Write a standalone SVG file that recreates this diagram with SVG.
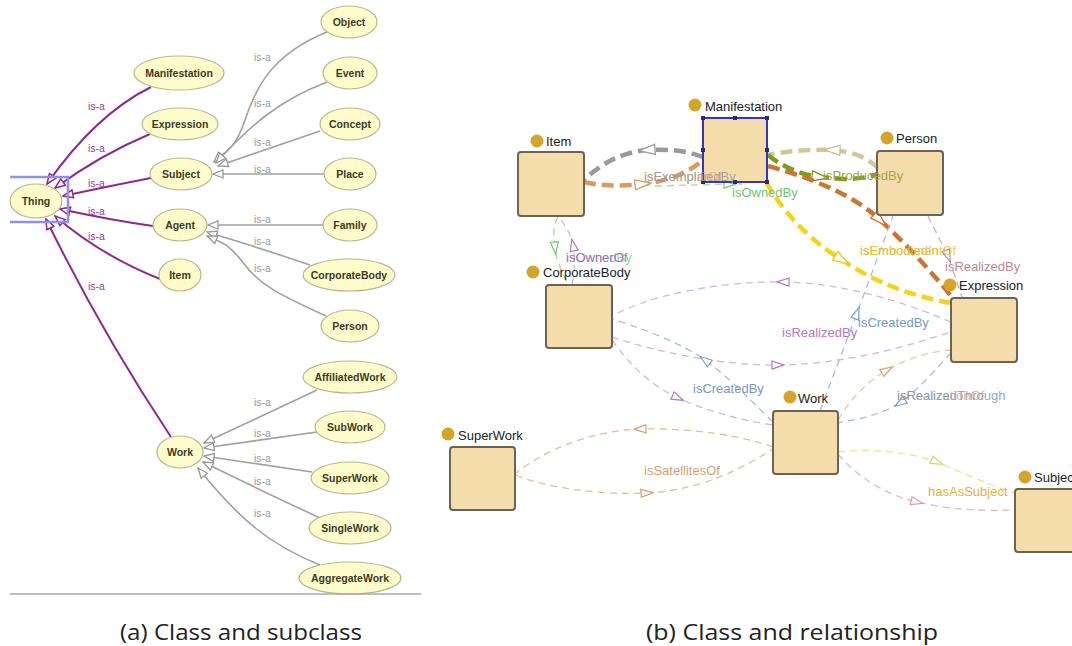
<svg xmlns="http://www.w3.org/2000/svg" width="1072" height="646" viewBox="0 0 1072 646">
<style>
.cls ellipse{fill:#fffccc;stroke:#b8b690;stroke-width:1.2}
.cls text{font-family:"Liberation Sans",Arial,sans-serif;font-size:10.5px;font-weight:bold;fill:#3b3b22;text-anchor:middle}
.isa{fill:none;stroke-width:1.6}
.isa.p{stroke:#8b2c8b;stroke-width:2}
.isa.g{stroke:#a0a0a0}
.lbl{font-family:"Liberation Sans",Arial,sans-serif;font-size:10.5px}
.lbl.p{fill:#9a3a9a}
.lbl.g{fill:#9a9a9a}
.box rect.sq{fill:#f5dcab;stroke:#6a6356;stroke-width:2}
.box circle{fill:#d4a52a}
.box text{font-family:"Liberation Sans",Arial,sans-serif;font-size:13px;fill:#222}
.rel{fill:none}
.thick{stroke-width:4.5;stroke-dasharray:12 6}
.thin{stroke-width:1.3;stroke-dasharray:7 5}
.el{font-family:"Liberation Sans",Arial,sans-serif;font-size:13px}
.cap{font-family:"Liberation Sans Narrow","Open Sans",sans-serif;font-size:22px;fill:#222}
.hd{fill:#2a2a70}
</style>
<defs>
<marker id="ip" viewBox="0 0 12 10" refX="11" refY="5" markerWidth="12" markerHeight="10" markerUnits="userSpaceOnUse" orient="auto"><path d="M1,1 L11,5 L1,9 Z" fill="#fff" stroke="#8b2c8b" stroke-width="1.5"/></marker>
<marker id="ig" viewBox="0 0 12 10" refX="11" refY="5" markerWidth="12" markerHeight="10" markerUnits="userSpaceOnUse" orient="auto"><path d="M1,1 L11,5 L1,9 Z" fill="#fff" stroke="#999" stroke-width="1.3"/></marker>
<marker id="m-gray" viewBox="0 0 18 12" refX="9" refY="6" markerWidth="18" markerHeight="12" markerUnits="userSpaceOnUse" orient="auto"><path d="M1,1 L17,6 L1,11 Z" fill="#fff" stroke="#9a9a9a" stroke-width="1.3"/></marker>
<marker id="m-orange" viewBox="0 0 18 12" refX="9" refY="6" markerWidth="18" markerHeight="12" markerUnits="userSpaceOnUse" orient="auto"><path d="M1,1 L17,6 L1,11 Z" fill="#fff" stroke="#dc9a60" stroke-width="1.3"/></marker>
<marker id="m-khaki" viewBox="0 0 18 12" refX="9" refY="6" markerWidth="18" markerHeight="12" markerUnits="userSpaceOnUse" orient="auto"><path d="M1,1 L17,6 L1,11 Z" fill="#fff" stroke="#c9c28e" stroke-width="1.3"/></marker>
<marker id="m-olive" viewBox="0 0 18 12" refX="9" refY="6" markerWidth="18" markerHeight="12" markerUnits="userSpaceOnUse" orient="auto"><path d="M1,1 L17,6 L1,11 Z" fill="#fff" stroke="#7f9b1e" stroke-width="1.3"/></marker>
<marker id="m-dorange" viewBox="0 0 18 12" refX="9" refY="6" markerWidth="18" markerHeight="12" markerUnits="userSpaceOnUse" orient="auto"><path d="M1,1 L17,6 L1,11 Z" fill="#fff" stroke="#cc7434" stroke-width="1.3"/></marker>
<marker id="m-yellow" viewBox="0 0 18 12" refX="9" refY="6" markerWidth="18" markerHeight="12" markerUnits="userSpaceOnUse" orient="auto"><path d="M1,1 L17,6 L1,11 Z" fill="#fff" stroke="#e8c81a" stroke-width="1.3"/></marker>
<marker id="m-green" viewBox="0 0 14 10" refX="7" refY="5" markerWidth="14" markerHeight="10" markerUnits="userSpaceOnUse" orient="auto"><path d="M1,1 L13,5 L1,9 Z" fill="#fff" stroke="#6fc86f" stroke-width="1.2"/></marker>
<marker id="m-purple" viewBox="0 0 14 10" refX="7" refY="5" markerWidth="14" markerHeight="10" markerUnits="userSpaceOnUse" orient="auto"><path d="M1,1 L13,5 L1,9 Z" fill="#fff" stroke="#b37ccc" stroke-width="1.2"/></marker>
<marker id="m-blue" viewBox="0 0 14 10" refX="7" refY="5" markerWidth="14" markerHeight="10" markerUnits="userSpaceOnUse" orient="auto"><path d="M1,1 L13,5 L1,9 Z" fill="#fff" stroke="#7f9ccc" stroke-width="1.2"/></marker>
<marker id="m-rose" viewBox="0 0 14 10" refX="7" refY="5" markerWidth="14" markerHeight="10" markerUnits="userSpaceOnUse" orient="auto"><path d="M1,1 L13,5 L1,9 Z" fill="#fff" stroke="#b89098" stroke-width="1.2"/></marker>
<marker id="m-peach" viewBox="0 0 14 10" refX="7" refY="5" markerWidth="14" markerHeight="10" markerUnits="userSpaceOnUse" orient="auto"><path d="M1,1 L13,5 L1,9 Z" fill="#fff" stroke="#d8a070" stroke-width="1.2"/></marker>
<marker id="m-lyellow" viewBox="0 0 14 10" refX="7" refY="5" markerWidth="14" markerHeight="10" markerUnits="userSpaceOnUse" orient="auto"><path d="M1,1 L13,5 L1,9 Z" fill="#fff" stroke="#e8d060" stroke-width="1.2"/></marker>
<marker id="m-pink" viewBox="0 0 14 10" refX="7" refY="5" markerWidth="14" markerHeight="10" markerUnits="userSpaceOnUse" orient="auto"><path d="M1,1 L13,5 L1,9 Z" fill="#fff" stroke="#d898b8" stroke-width="1.2"/></marker>
</defs>
<rect width="1072" height="646" fill="#fff"/>

<!-- ===== Left panel connectors ===== -->
<g id="connectors-left">
<path class="isa p" d="M151,87 Q95,115 47,184" marker-end="url(#ip)"/>
<path class="isa p" d="M150,134 Q100,155 55,188" marker-end="url(#ip)"/>
<path class="isa p" d="M151,178 Q110,186 63,196" marker-end="url(#ip)"/>
<path class="isa p" d="M153,226 Q110,220 60,209" marker-end="url(#ip)"/>
<path class="isa p" d="M160,279 Q100,255 55,216" marker-end="url(#ip)"/>
<path class="isa p" d="M171,437 Q100,330 46,219" marker-end="url(#ip)"/>
<path class="isa g" d="M327,32 C270,55 255,90 245,120 S226,150 214,162" marker-end="url(#ig)"/>
<path class="isa g" d="M327,82 C280,100 250,125 216,163" marker-end="url(#ig)"/>
<path class="isa g" d="M320,131 Q270,148 218,166" marker-end="url(#ig)"/>
<path class="isa g" d="M324,174 L213,174" marker-end="url(#ig)"/>
<path class="isa g" d="M323,225 L208,225" marker-end="url(#ig)"/>
<path class="isa g" d="M310,265 Q260,248 207,232" marker-end="url(#ig)"/>
<path class="isa g" d="M326,316 C280,295 260,285 245,265 S222,242 207,236" marker-end="url(#ig)"/>
<path class="isa g" d="M317,390 L204,443" marker-end="url(#ig)"/>
<path class="isa g" d="M317,432 L204,448" marker-end="url(#ig)"/>
<path class="isa g" d="M312,472 L204,456" marker-end="url(#ig)"/>
<path class="isa g" d="M320,518 Q260,490 203,462" marker-end="url(#ig)"/>
<path class="isa g" d="M320,565 C270,545 240,520 198,468" marker-end="url(#ig)"/>
<text class="lbl p" x="88" y="110">is-a</text>
<text class="lbl p" x="88" y="152">is-a</text>
<text class="lbl p" x="88" y="187">is-a</text>
<text class="lbl p" x="88" y="215">is-a</text>
<text class="lbl p" x="88" y="240">is-a</text>
<text class="lbl p" x="88" y="290">is-a</text>
<text class="lbl g" x="254" y="61">is-a</text>
<text class="lbl g" x="254" y="107">is-a</text>
<text class="lbl g" x="254" y="146">is-a</text>
<text class="lbl g" x="254" y="173">is-a</text>
<text class="lbl g" x="254" y="223">is-a</text>
<text class="lbl g" x="254" y="245">is-a</text>
<text class="lbl g" x="254" y="272">is-a</text>
<text class="lbl g" x="254" y="406">is-a</text>
<text class="lbl g" x="254" y="437">is-a</text>
<text class="lbl g" x="254" y="462">is-a</text>
<text class="lbl g" x="254" y="485">is-a</text>
<text class="lbl g" x="254" y="517">is-a</text>
</g>

<!-- ===== Left panel nodes ===== -->
<g id="c-Thing" class="cls"><ellipse cx="36" cy="201" rx="26" ry="17"/><text x="36" y="205">Thing</text>
<path d="M10,177 H68 V222 H10" fill="none" stroke="#8f8ff0" stroke-width="2.5"/></g>
<g id="c-Manifestation" class="cls"><ellipse cx="179" cy="73" rx="45" ry="17"/><text x="179" y="77">Manifestation</text></g>
<g id="c-Expression" class="cls"><ellipse cx="180" cy="124" rx="38" ry="16"/><text x="180" y="128">Expression</text></g>
<g id="c-Subject" class="cls"><ellipse cx="181" cy="174" rx="31" ry="16"/><text x="181" y="178">Subject</text></g>
<g id="c-Agent" class="cls"><ellipse cx="180" cy="225" rx="27" ry="16"/><text x="180" y="229">Agent</text></g>
<g id="c-Item" class="cls"><ellipse cx="180" cy="275" rx="21" ry="16"/><text x="180" y="279">Item</text></g>
<g id="c-Work" class="cls"><ellipse cx="180" cy="452" rx="23" ry="16"/><text x="180" y="456">Work</text></g>
<g id="c-Object" class="cls"><ellipse cx="349" cy="22" rx="28" ry="16"/><text x="349" y="26">Object</text></g>
<g id="c-Event" class="cls"><ellipse cx="350" cy="73" rx="27" ry="16"/><text x="350" y="77">Event</text></g>
<g id="c-Concept" class="cls"><ellipse cx="350" cy="124" rx="30" ry="16"/><text x="350" y="128">Concept</text></g>
<g id="c-Place" class="cls"><ellipse cx="350" cy="174" rx="26" ry="16"/><text x="350" y="178">Place</text></g>
<g id="c-Family" class="cls"><ellipse cx="350" cy="225" rx="27" ry="16"/><text x="350" y="229">Family</text></g>
<g id="c-CorporateBody" class="cls"><ellipse cx="349" cy="275" rx="46" ry="16"/><text x="349" y="279">CorporateBody</text></g>
<g id="c-Person" class="cls"><ellipse cx="350" cy="326" rx="29" ry="16"/><text x="350" y="330">Person</text></g>
<g id="c-AffiliatedWork" class="cls"><ellipse cx="350" cy="377" rx="47" ry="16"/><text x="350" y="381">AffiliatedWork</text></g>
<g id="c-SubWork" class="cls"><ellipse cx="350" cy="427" rx="35" ry="16"/><text x="350" y="431">SubWork</text></g>
<g id="c-SuperWork" class="cls"><ellipse cx="350" cy="478" rx="39" ry="16"/><text x="350" y="482">SuperWork</text></g>
<g id="c-SingleWork" class="cls"><ellipse cx="350" cy="528" rx="41" ry="16"/><text x="350" y="532">SingleWork</text></g>
<g id="c-AggregateWork" class="cls"><ellipse cx="350" cy="578" rx="51" ry="16"/><text x="350" y="582">AggregateWork</text></g>
<line x1="10" y1="594" x2="421" y2="594" stroke="#a8a8a8" stroke-width="1.5"/>

<!-- ===== Right panel connectors ===== -->
<g id="connectors-right">
<path class="rel thick" stroke="#9a9a9a" d="M703,157 Q680,148 647,150 Q612,153 584,180" marker-mid="url(#m-gray)"/>
<path class="rel thick" stroke="#dc9a60" d="M584,182 Q610,188 643,184 Q680,180 703,160" marker-mid="url(#m-orange)"/>
<path class="rel thin" stroke="#9fdc9f" d="M655,186 L730,184 L742,184" marker-mid="url(#m-green)"/>
<path class="rel thick" stroke="#cfc99a" d="M878,168 Q862,152 832,150 Q795,149 768,155" marker-mid="url(#m-khaki)"/>
<path class="rel thick" stroke="#7f9b1e" d="M768,155 Q790,173 820,177 Q855,182 878,174" marker-mid="url(#m-olive)"/>
<path class="rel thick" stroke="#cc7434" d="M768,166 C820,180 860,200 880,220 C905,243 930,270 951,296" marker-mid="url(#m-dorange)"/>
<path class="rel thick" stroke="#f2d41c" d="M766,182 C785,215 810,240 842,260 C875,282 910,296 951,303" marker-mid="url(#m-yellow)"/>
<path class="rel thin" stroke="#c8b0b4" d="M928,216 L948,256 L962,297" marker-mid="url(#m-rose)"/>
<path class="rel thin" stroke="#a8bcdc" d="M820,411 L857,313 L893,216" marker-mid="url(#m-blue)"/>
<path class="rel thin" stroke="#d0b8dc" d="M951,322 C900,300 840,283 783,282 C720,281 650,295 612,316" marker-mid="url(#m-purple)"/>
<path class="rel thin" stroke="#d0b8dc" d="M612,337 C650,350 720,366 778,365 C850,364 910,345 951,332" marker-mid="url(#m-purple)"/>
<path class="rel thin" stroke="#a8bcdc" d="M773,422 C750,400 730,378 705,360 C680,342 640,328 612,319" marker-mid="url(#m-blue)"/>
<path class="rel thin" stroke="#d0b8dc" d="M612,340 C630,365 650,385 678,398 C710,412 740,420 773,425" marker-mid="url(#m-purple)"/>
<path class="rel thin" stroke="#ecc8a4" d="M838,420 C850,400 865,383 887,370 C910,357 930,352 951,350" marker-mid="url(#m-peach)"/>
<path class="rel thin" stroke="#a8bcdc" d="M951,353 C935,370 918,390 900,403 C882,414 860,419 838,423" marker-mid="url(#m-blue)"/>
<path class="rel thin" stroke="#e4bc98" d="M773,447 C740,435 690,428 640,429 C590,431 545,450 516,473" marker-mid="url(#m-peach)"/>
<path class="rel thin" stroke="#e4bc98" d="M516,475 C545,488 600,495 647,493 C700,490 740,470 773,449" marker-mid="url(#m-peach)"/>
<path class="rel thin" stroke="#f0e090" d="M838,452 C870,448 910,452 937,462 C960,472 990,485 1015,493" marker-mid="url(#m-lyellow)"/>
<path class="rel thin" stroke="#e4b4cc" d="M838,454 C855,475 885,495 917,502 C950,510 985,511 1015,510" marker-mid="url(#m-pink)"/>
<path class="rel thin" stroke="#9fdc9f" d="M558,217 C552,228 554,240 555,248 C556,260 562,272 568,284" marker-mid="url(#m-green)"/>
<path class="rel thin" stroke="#d0b8dc" d="M572,284 C575,270 575,255 573,245 C570,232 564,223 558,217" marker-mid="url(#m-purple)"/>
</g>

<!-- ===== Right panel nodes ===== -->
<g id="n-Item" class="box"><rect class="sq" x="518" y="152" width="66" height="64" rx="3"/><circle cx="537" cy="141" r="6.5"/><text x="546" y="146">Item</text></g>
<g id="n-Manifestation" class="box"><rect class="sq" x="703" y="118" width="64" height="64" rx="1" style="stroke:#3434c0"/><circle cx="695" cy="105" r="6.5"/><text x="705" y="111">Manifestation</text>
<rect class="hd" x="701" y="116" width="4" height="4"/><rect class="hd" x="733" y="116" width="4" height="4"/><rect class="hd" x="765" y="116" width="4" height="4"/>
<rect class="hd" x="701" y="148" width="4" height="4"/><rect class="hd" x="765" y="148" width="4" height="4"/>
<rect class="hd" x="701" y="180" width="4" height="4"/><rect class="hd" x="733" y="180" width="4" height="4"/><rect class="hd" x="765" y="180" width="4" height="4"/></g>
<g id="n-Person" class="box"><rect class="sq" x="877" y="151" width="66" height="64" rx="3"/><circle cx="887" cy="138" r="6.5"/><text x="896" y="143">Person</text></g>
<g id="n-CorporateBody" class="box"><rect class="sq" x="546" y="285" width="66" height="63" rx="3"/><circle cx="533" cy="272" r="6.5"/><text x="543" y="277">CorporateBody</text></g>
<g id="n-Expression" class="box"><rect class="sq" x="951" y="298" width="66" height="64" rx="3"/><circle cx="950" cy="285" r="6.5"/><text x="959" y="290">Expression</text></g>
<g id="n-SuperWork" class="box"><rect class="sq" x="450" y="447" width="65" height="63" rx="3"/><circle cx="448" cy="434" r="6.5"/><text x="458" y="440">SuperWork</text></g>
<g id="n-Work" class="box"><rect class="sq" x="773" y="411" width="65" height="63" rx="3"/><circle cx="790" cy="397" r="6.5"/><text x="798" y="403">Work</text></g>
<g id="n-Subject" class="box"><rect class="sq" x="1015" y="489" width="66" height="63" rx="3"/><circle cx="1025" cy="477" r="6.5"/><text x="1034" y="482">Subject</text></g>

<!-- ===== Right panel connector labels (drawn over nodes) ===== -->
<g id="connector-labels">
<text class="el" x="644" y="181" fill="#e0a878" fill-opacity="0.8">isExemplarOf</text>
<text class="el" x="644" y="181" fill="#9a9a9a" fill-opacity="0.85">isExemplifiedBy</text>
<text class="el" x="732" y="197" fill="#72c472">isOwnedBy</text>
<text class="el" x="566" y="262" fill="#72c472" fill-opacity="0.8">isOwnedBy</text>
<text class="el" x="566" y="262" fill="#a060c8" fill-opacity="0.85">isOwnerOf</text>
<text class="el" x="823" y="180" fill="#a8a44a">isProducedBy</text>
<text class="el" x="860" y="255" fill="#d8904a" fill-opacity="0.7">isEmbodiedIn</text>
<text class="el" x="860" y="255" fill="#e8c430" fill-opacity="0.8">isEmbodimentOf</text>
<text class="el" x="945" y="271" fill="#c08890">isRealizedBy</text>
<text class="el" x="858" y="327" fill="#7a98c4">isCreatedBy</text>
<text class="el" x="782" y="337" fill="#b678c8">isRealizedBy</text>
<text class="el" x="693" y="393" fill="#7a98c4">isCreatedBy</text>
<text class="el" x="897" y="400" fill="#e0a060" fill-opacity="0.8">isRealizationOf</text>
<text class="el" x="897" y="400" fill="#7a98c4" fill-opacity="0.85">isRealizedThrough</text>
<text class="el" x="644" y="475" fill="#d8a070">isSatellitesOf</text>
<text class="el" x="928" y="496" fill="#e4b040">hasAsSubject</text>
</g>

<!-- ===== Captions ===== -->
<text class="cap" x="120" y="640" textLength="242" lengthAdjust="spacingAndGlyphs">(a) Class and subclass</text>
<text class="cap" x="646" y="640" textLength="292" lengthAdjust="spacingAndGlyphs">(b) Class and relationship</text>
</svg>
